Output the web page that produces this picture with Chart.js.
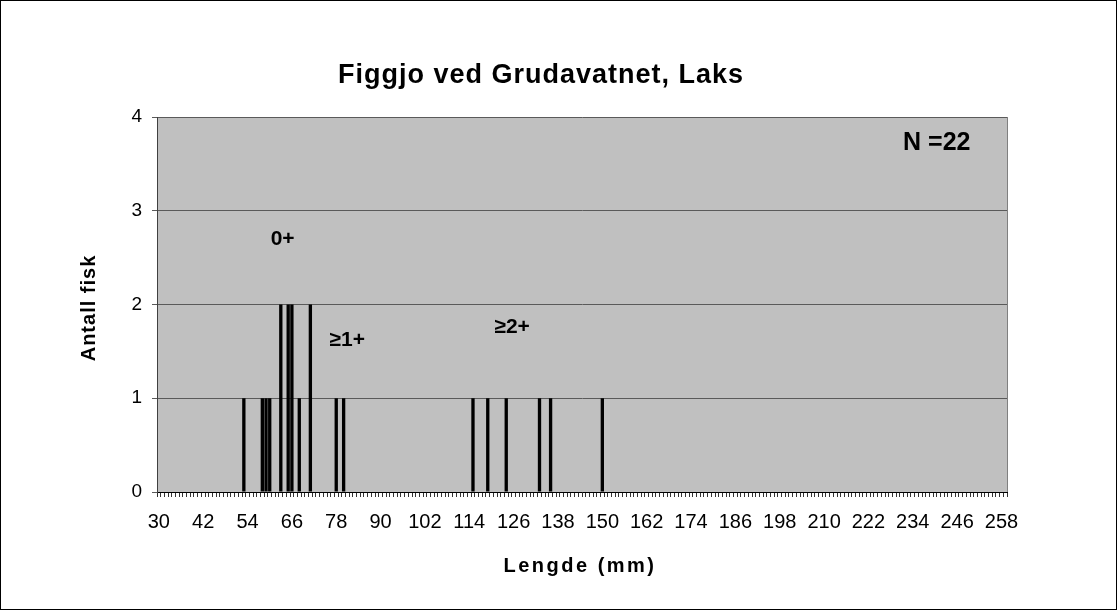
<!DOCTYPE html>
<html>
<head>
<meta charset="utf-8">
<script src="https://cdn.jsdelivr.net/npm/chart.js@4/dist/chart.umd.min.js"></script>
<style>
  html, body { margin: 0; padding: 0; background: #ffffff; }
  #wrap { width: 1117px; height: 610px; position: relative; }
</style>
</head>
<body>
<div id="wrap"><canvas id="chart" width="1117" height="610"></canvas></div>
<script>
// Length axis range (mm) and label interval
const lengthStart = 30;
const lengthEnd = 259;
const labelStep = 12;

// Measured fish: length (mm) and number of fish at that length
const fishLengths = [53, 58, 59, 60, 63, 65, 66, 68, 71, 78, 80, 115, 119, 124, 133, 136, 150];
const fishCounts  = [ 1,  1,  1,  1,  2,  2,  2,  1,  2,  1,  1,   1,   1,   1,   1,   1,   1];

// Count axis
const countMin = 0;
const countMax = 4;

// Age-group annotations: text, length (mm) and count position
const ageGroupText = ['0+', '\u22651+', '\u22652+'];
const ageGroupLength = [63.5, 81, 125.6];
const ageGroupCount = [2.7, 1.62, 1.76];

// Sample size note
const sampleText = 'N =22';
const sampleLength = 240.5;
const sampleCount = 3.72;

const titleText = 'Figgjo ved Grudavatnet, Laks';
const xTitleText = 'Lengde (mm)';
const yTitleText = 'Antall fisk';

const FONT = "'Liberation Sans', Arial, Helvetica, sans-serif";

// Category labels: one per millimetre
const lengthLabels = [];
for (let l = lengthStart; l <= lengthEnd; l++) lengthLabels.push(String(l));
const countByLength = lengthLabels.map(l => {
  const i = fishLengths.indexOf(Number(l));
  return i >= 0 ? fishCounts[i] : null;
});

const PLOT_BG = '#c0c0c0';
const GRID = '#5a5a5a';

const frame = {
  id: 'frame',
  beforeDraw(chart) {
    const { ctx, chartArea: a } = chart;
    ctx.save();
    ctx.fillStyle = '#ffffff';
    ctx.fillRect(0, 0, chart.width, chart.height);
    ctx.strokeStyle = '#000000';
    ctx.lineWidth = 1;
    ctx.strokeRect(0.5, 0.5, chart.width - 1, chart.height - 1);
    ctx.fillStyle = PLOT_BG;
    ctx.fillRect(a.left, a.top, a.right - a.left, a.bottom - a.top);
    ctx.restore();
  },
  afterDraw(chart) {
    const { ctx, chartArea: a, scales } = chart;
    ctx.save();
    // plot-area outline on the right
    ctx.strokeStyle = '#808080';
    ctx.lineWidth = 1;
    ctx.beginPath();
    ctx.moveTo(Math.round(a.right) + 0.5, a.top);
    ctx.lineTo(Math.round(a.right) + 0.5, a.bottom);
    ctx.stroke();

    ctx.fillStyle = '#000000';
    ctx.textAlign = 'center';
    ctx.textBaseline = 'middle';

    // chart title
    ctx.font = 'bold 27px ' + FONT;
    ctx.letterSpacing = '1px';
    ctx.fillText(titleText, 541, 76);

    // axis titles
    ctx.font = 'bold 20px ' + FONT;
    ctx.letterSpacing = '2.5px';
    ctx.fillText(xTitleText, 580, 566);
    ctx.letterSpacing = '1px';
    ctx.save();
    ctx.translate(89, 308);
    ctx.rotate(-Math.PI / 2);
    ctx.fillText(yTitleText, 0, 0);
    ctx.restore();

    // annotations placed in data units
    const xs = scales.x, ys = scales.y;
    ctx.font = 'bold 21px ' + FONT;
    ctx.letterSpacing = '0px';
    ageGroupText.forEach((t, i) => {
      const px = xs.getPixelForValue(ageGroupLength[i] - lengthStart);
      const py = ys.getPixelForValue(ageGroupCount[i]);
      ctx.fillText(t, px, py);
    });
    ctx.font = 'bold 25px ' + FONT;
    ctx.fillText(sampleText, xs.getPixelForValue(sampleLength - lengthStart), ys.getPixelForValue(sampleCount));
    ctx.restore();
  }
};

new Chart(document.getElementById('chart'), {
  type: 'bar',
  data: {
    labels: lengthLabels,
    datasets: [{
      data: countByLength,
      backgroundColor: '#000000',
      borderWidth: 0,
      categoryPercentage: 1.0,
      barPercentage: 0.9
    }]
  },
  options: {
    responsive: false,
    animation: false,
    devicePixelRatio: 1,
    layout: { padding: { top: 117, right: 110, bottom: 0, left: 0 } },
    plugins: {
      legend: { display: false },
      title: { display: false },
      tooltip: { enabled: false }
    },
    scales: {
      x: {
        type: 'category',
        offset: true,
        grid: {
          display: true,
          drawOnChartArea: false,
          drawTicks: true,
          tickLength: 5,
          color: '#333333',
          offset: true
        },
        border: { display: true, color: '#000000', width: 1 },
        ticks: {
          autoSkip: false,
          maxRotation: 0,
          minRotation: 0,
          padding: 13,
          color: '#000000',
          font: { family: FONT, size: 20 },
          callback: (v, i) => ((Number(lengthLabels[i]) - lengthStart) % labelStep === 0 ? lengthLabels[i] : '')
        },
        afterFit: s => { s.height = 118; }
      },
      y: {
        min: countMin,
        max: countMax,
        ticks: {
          stepSize: 1,
          padding: 10,
          color: '#000000',
          font: { family: FONT, size: 19 }
        },
        grid: { color: GRID, lineWidth: 1, tickLength: 5, drawTicks: true },
        border: { display: true, color: '#404040', width: 1 },
        afterFit: s => { s.width = 157; }
      }
    }
  },
  plugins: [frame]
});
</script>
</body>
</html>
